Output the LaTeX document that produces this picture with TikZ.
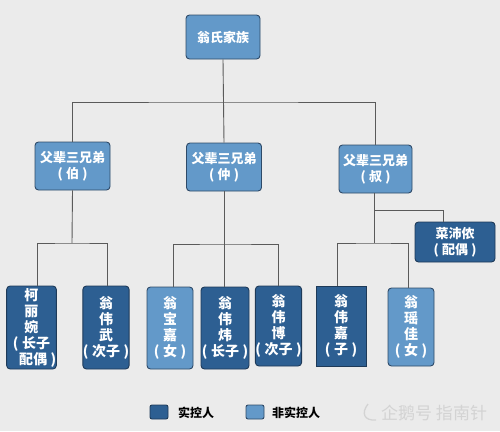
\documentclass[tikz,border=0pt]{standalone}
\usepackage{fontspec}
\setmainfont{Noto Sans CJK SC}
\newcommand{\lp}{(\hspace{0.25em}}
\newcommand{\rp}{\hspace{0.25em})}
\begin{document}
\begin{tikzpicture}[x=1pt,y=-1pt,
  every node/.style={inner sep=0pt,font=\bfseries},
  lightbox/.style={draw=boxborder,line width=0.9pt,fill=lightblue,rounded corners=3.5pt,text=white,align=center},
  darkbox/.style={draw=darkborder,line width=0.9pt,fill=darkblue,rounded corners=3.5pt,text=white,align=center},
  conn/.style={draw=linegray,line width=0.9pt},
  bigtxt/.style={font=\bfseries\fontsize{13}{16}\selectfont},
  coltxt/.style={font=\bfseries\fontsize{14}{16}\selectfont},
  legtxt/.style={font=\bfseries\fontsize{12}{14}\selectfont,text=black,anchor=west}]
\definecolor{bg}{HTML}{EBEBEB}
\definecolor{lightblue}{HTML}{6399C9}
\definecolor{darkblue}{HTML}{2D5F92}
\definecolor{boxborder}{HTML}{2E4A68}
\definecolor{darkborder}{HTML}{1E3A58}
\definecolor{linegray}{HTML}{5A5A5A}
\definecolor{wm}{HTML}{D3D3D3}
\fill[bg] (0,0) rectangle (500,431);
\useasboundingbox (0,0) rectangle (500,431);
% nodes
\node[lightbox,bigtxt,minimum width=74pt,minimum height=44pt] (top) at (223,37) {翁氏家族};
\node[lightbox,bigtxt,minimum width=75pt,minimum height=48pt] (bo) at (72.5,166) {父辈三兄弟\\\lp 伯\rp};
\node[lightbox,bigtxt,minimum width=75pt,minimum height=48pt] (zhong) at (224,167) {父辈三兄弟\\\lp 仲\rp};
\node[lightbox,bigtxt,minimum width=73pt,minimum height=48pt] (shu) at (375.5,169) {父辈三兄弟\\\lp 叔\rp};
\node[darkbox,bigtxt,minimum width=80pt,minimum height=40pt] (cai) at (455,242) {菜沛侬\\\lp 配偶\rp};
\node[darkbox,coltxt,minimum width=49pt,minimum height=83pt] (ke) at (31.5,327.5) {柯\\丽\\婉\\\lp 长子\hspace{0.6em}\\\hspace{0.9em}配偶\rp};
\node[darkbox,coltxt,minimum width=46pt,minimum height=83pt] (wu) at (106,327.5) {翁\\伟\\武\\\lp 次子\rp};
\node[lightbox,coltxt,minimum width=46pt,minimum height=82pt] (bao) at (170,328) {翁\\宝\\嘉\\\lp 女\rp};
\node[darkbox,coltxt,minimum width=48pt,minimum height=82pt] (wei) at (225,328) {翁\\伟\\炜\\\lp 长子\rp};
\node[darkbox,coltxt,minimum width=45pt,minimum height=80pt] (bob) at (278.5,326) {翁\\伟\\博\\\lp 次子\rp};
\node[darkbox,coltxt,rounded corners=0pt,minimum width=50pt,minimum height=80pt] (jia) at (341,326) {翁\\伟\\嘉\\\lp 子\rp};
\node[lightbox,coltxt,minimum width=46pt,minimum height=78pt] (yao) at (411,327) {翁\\瑶\\佳\\\lp 女\rp};
% connectors
\coordinate (tbar) at (223,102);
\draw[conn] (top.south) -- (zhong.north);
\draw[conn] (bo.north) |- (tbar) -| (shu.north);
\coordinate (bobar) at (72,243);
\draw[conn] (bo.south) -- (bobar);
\draw[conn] ([xshift=5.5pt]ke.north) |- (bobar) -| ([xshift=1pt]wu.north);
\coordinate (zbar) at (225,244);
\draw[conn] (zhong.south) -- (zhong.south |- wei.north);
\draw[conn] ([xshift=3pt]bao.north) |- (zbar) -| (bob.north);
\coordinate (sbar) at (374,243);
\coordinate (sbr) at (374,210);
\draw[conn] ([xshift=-1.5pt]shu.south) -- (sbar);
\draw[conn] (sbr) -| ([xshift=-12pt]cai.north);
\draw[conn] ([xshift=-4pt]jia.north) |- (sbar) -| ([xshift=-3pt]yao.north);
% legend
\node[darkbox,minimum width=18pt,minimum height=14pt,rounded corners=2pt] (legd) at (159,412) {};
\node[legtxt] (legdt) at (178,412.5) {实控人};
\node[lightbox,minimum width=18pt,minimum height=14pt,rounded corners=2pt] (legl) at (255,412) {};
\node[legtxt] (leglt) at (272,412.5) {非实控人};
% watermark
\node[font=\fontsize{17}{19}\selectfont,text=wm,anchor=west] (wmk) at (381,413) {企鹅号 指南针};
\draw[wm,line width=1.3pt] (368,404) .. controls (361,413) and (364,421) .. (376,420);
\end{tikzpicture}
\end{document}
